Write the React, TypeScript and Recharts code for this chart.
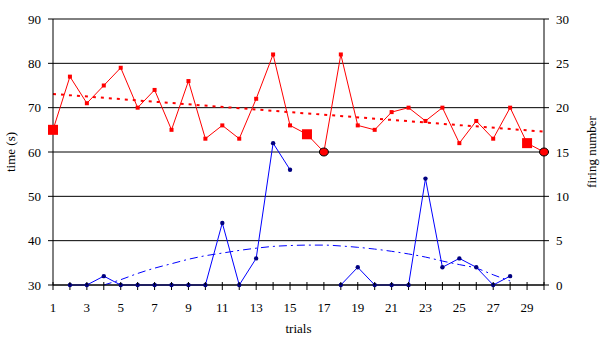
import React from 'react';
import { LineChart, Line, XAxis, YAxis, CartesianGrid, Label } from 'recharts';

const trials = [1,2,3,4,5,6,7,8,9,10,11,12,13,14,15,16,17,18,19,20,21,22,23,24,25,26,27,28,29,30];
const timeSeconds = [65,77,71,75,79,70,74,65,76,63,66,63,72,82,66,64,60,82,66,65,69,70,67,70,62,67,63,70,62,60];
const firingNumber: (number | null)[] = [null,0,0,1,0,0,0,0,0,0,7,0,3,16,13,null,null,0,2,0,0,0,12,2,3,2,0,1,null,null];
const timeTrend: (number | null)[] = [73.1,null,null,null,null,null,null,null,null,null,null,null,null,null,null,null,null,null,null,null,null,null,null,null,null,null,null,null,null,64.6];
const firingTrend: (number | null)[] = [null,null,null,0,0.6,1.3,1.9,2.4,2.9,3.3,3.6,3.9,4.15,4.35,4.45,4.5,4.5,4.4,4.25,4.05,3.8,3.5,3.15,2.7,2.3,1.9,1.15,0.45,null,null];
const leftTicks = [30,40,50,60,70,80,90];
const rightTicks = [0,5,10,15,20,25,30];
const bigSquareTrials = [1,16,29];
const circleTrials = [17,30];

const data = trials.map((t, i) => ({
  trial: t,
  time: timeSeconds[i],
  firing: firingNumber[i],
  timeTrend: timeTrend[i],
  firingTrend: firingTrend[i],
}));

const FONT = "'Liberation Serif', 'Times New Roman', Times, serif";
const X_TICK_SIZE = 5;
const X_TICK_MARGIN = 13;

const XTick = (props: any) => {
  const { x, y, payload } = props;
  const axisY = y - X_TICK_SIZE - X_TICK_MARGIN;
  const v = payload.value;
  return (
    <g>
      <line x1={x} x2={x} y1={axisY - 3} y2={axisY} stroke="#000" strokeWidth={1} />
      {v % 2 === 1 ? (
        <text x={x} y={y} dy="0.71em" textAnchor="middle" fontFamily={FONT} fontSize={13} fill="#000">{String(v)}</text>
      ) : null}
    </g>
  );
};

const YTick = (props: any) => {
  const { x, y, payload, textAnchor } = props;
  return (
    <text x={x} y={y} dy="0.355em" textAnchor={textAnchor} fontFamily={FONT} fontSize={13} fill="#000">{String(payload.value)}</text>
  );
};

const RedDot = (props: any) => {
  const { cx, cy, payload, index } = props;
  if (cx == null || cy == null) return <g key={'r' + index} />;
  const t = payload.trial;
  if (bigSquareTrials.includes(t)) {
    return <rect key={'r' + index} x={cx - 5} y={cy - 5} width={10} height={10} fill="#FF0000" />;
  }
  if (circleTrials.includes(t)) {
    return <ellipse key={'r' + index} cx={cx} cy={cy} rx={4.5} ry={4} fill="#FF0000" stroke="#000" strokeWidth={1} />;
  }
  return <rect key={'r' + index} x={cx - 2} y={cy - 2} width={4} height={4} fill="#FF0000" />;
};

const BlueDot = (props: any) => {
  const { cx, cy, value, index } = props;
  if (cx == null || cy == null || value == null) return <g key={'b' + index} />;
  return <circle key={'b' + index} cx={cx} cy={cy} r={2.2} fill="#000080" />;
};

const labelStyle = { fontFamily: FONT, fontSize: 13, fill: '#000' };

export default function App() {
  return (
    <div style={{ position: 'absolute', left: 0, top: 0, background: '#fff', fontFamily: FONT }}>
      <LineChart width={613} height={351} data={data} margin={{ top: 19, right: 0, left: 0, bottom: 0 }} style={{ fontFamily: FONT }}>
        <CartesianGrid yAxisId="left" vertical={false} horizontal stroke="#000" strokeWidth={1} />
        <XAxis
          dataKey="trial"
          type="number"
          domain={[1, 30]}
          ticks={trials}
          interval={0}
          height={66}
          tick={<XTick />}
          tickSize={X_TICK_SIZE}
          tickMargin={X_TICK_MARGIN}
          axisLine={{ stroke: '#000' }}
          tickLine={{ stroke: '#000' }}
        >
          <Label value="trials" position="insideTop" offset={39} fontFamily={FONT} style={labelStyle} />
        </XAxis>
        <YAxis
          yAxisId="left"
          orientation="left"
          domain={[30, 90]}
          ticks={leftTicks}
          interval={0}
          width={53}
          tick={<YTick />}
          tickSize={5}
          tickMargin={7}
          axisLine={{ stroke: '#000' }}
          tickLine={{ stroke: '#000' }}
        >
          <Label value="time (s)" angle={-90} position="insideLeft" offset={10} fontFamily={FONT} style={{ ...labelStyle, textAnchor: 'middle' }} />
        </YAxis>
        <YAxis
          yAxisId="right"
          orientation="right"
          domain={[0, 30]}
          ticks={rightTicks}
          interval={0}
          width={69}
          tick={<YTick />}
          tickSize={5}
          tickMargin={7}
          axisLine={{ stroke: '#000' }}
          tickLine={{ stroke: '#000' }}
        >
          <Label value="firing number" angle={-90} position="insideRight" offset={22} fontFamily={FONT} style={{ ...labelStyle, textAnchor: 'middle' }} />
        </YAxis>
        <Line yAxisId="left" dataKey="timeTrend" stroke="#FF0000" strokeWidth={2} strokeDasharray="3 5" dot={false} connectNulls isAnimationActive={false} />
        <Line yAxisId="right" dataKey="firingTrend" type="monotone" stroke="#0000FF" strokeWidth={1} strokeDasharray="8 4 2 4" dot={false} isAnimationActive={false} />
        <Line yAxisId="left" dataKey="time" stroke="#FF0000" strokeWidth={1} dot={RedDot} isAnimationActive={false} />
        <Line yAxisId="right" dataKey="firing" stroke="#0000FF" strokeWidth={1} dot={BlueDot} isAnimationActive={false} />
      </LineChart>
    </div>
  );
}
